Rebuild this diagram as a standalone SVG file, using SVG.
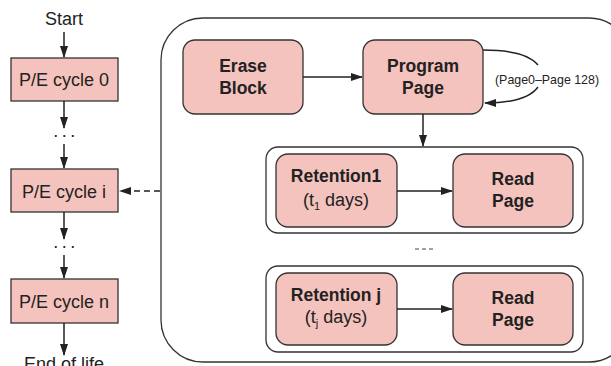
<svg xmlns="http://www.w3.org/2000/svg" width="611" height="366" viewBox="0 0 611 366">
<defs>
<marker id="ah" markerWidth="12" markerHeight="8" refX="11" refY="4" orient="auto" markerUnits="userSpaceOnUse"><path d="M0,0 L12,4 L0,8 Z" fill="#222"/></marker>
<style>
.box{fill:#f5c3bd;stroke:#333;stroke-width:1.3}
.grp{fill:#fff;stroke:#333;stroke-width:1.3}
.t{font-family:"Liberation Sans",Arial,sans-serif;fill:#222;text-anchor:middle}
.b{font-weight:bold;font-size:17.5px}
.r{font-size:18px}
.c{stroke:#222;stroke-width:1.5;fill:none}
</style>
</defs>
<rect width="611" height="366" fill="#fff"/>
<g id="outer"><rect x="161" y="18" width="470" height="344" rx="42" class="grp"/></g>
<g id="start"><text x="64" y="25" class="t r">Start</text></g>
<g id="pe0"><rect x="11" y="58" width="107" height="43" class="box"/><text x="64" y="86" class="t r">P/E cycle 0</text></g>
<g id="dots1"><text x="66" y="137" class="t r" style="letter-spacing:3.5px">...</text></g>
<g id="pei"><rect x="11" y="169" width="107" height="43" class="box"/><text x="64" y="198" class="t r">P/E cycle i</text></g>
<g id="dots2"><text x="66" y="248" class="t r" style="letter-spacing:3.5px">...</text></g>
<g id="pen"><rect x="11" y="279" width="107" height="44" class="box"/><text x="64" y="308" class="t r">P/E cycle n</text></g>
<g id="end"><text x="64" y="370" class="t r">End of life</text></g>
<g id="erase"><rect x="183" y="40" width="120" height="74" rx="12" class="box"/><text x="243" y="72" class="t b">Erase</text><text x="243" y="94" class="t b">Block</text></g>
<g id="program"><rect x="363" y="40" width="120" height="74" rx="12" class="box"/><text x="423" y="72" class="t b">Program</text><text x="423" y="94" class="t b">Page</text></g>
<g id="loopLabel"><text x="547" y="84" class="t" style="font-size:12.4px">(Page0–Page 128)</text></g>
<g id="group1"><rect x="266" y="147" width="317" height="86" rx="12" class="grp"/></g>
<g id="ret1"><rect x="276" y="154" width="121" height="73" rx="12" class="box"/><text x="336" y="182" class="t b">Retention1</text><text x="336" y="206" class="t r">(t<tspan font-size="11" dy="4">1</tspan><tspan dy="-4"> days)</tspan></text></g>
<g id="read1"><rect x="453" y="154" width="120" height="73" rx="12" class="box"/><text x="513" y="185" class="t b">Read</text><text x="513" y="207" class="t b">Page</text></g>
<g id="dashes"><line x1="415" y1="249" x2="435" y2="249" stroke="#444" stroke-width="1" stroke-dasharray="4,3"/></g>
<g id="group2"><rect x="266" y="266" width="317" height="86" rx="12" class="grp"/></g>
<g id="retj"><rect x="276" y="273" width="121" height="72" rx="12" class="box"/><text x="336" y="301" class="t b">Retention j</text><text x="336" y="323" class="t r">(t<tspan font-size="11" dy="4">j</tspan><tspan dy="-4"> days)</tspan></text></g>
<g id="readj"><rect x="453" y="273" width="120" height="72" rx="12" class="box"/><text x="513" y="304" class="t b">Read</text><text x="513" y="326" class="t b">Page</text></g>
<g id="connectors">
<line x1="64" y1="32" x2="64" y2="57" class="c" marker-end="url(#ah)"/>
<line x1="64" y1="101" x2="64" y2="128" class="c" marker-end="url(#ah)"/>
<line x1="64" y1="144" x2="64" y2="168" class="c" marker-end="url(#ah)"/>
<line x1="64" y1="212" x2="64" y2="239" class="c" marker-end="url(#ah)"/>
<line x1="64" y1="255" x2="64" y2="278" class="c" marker-end="url(#ah)"/>
<line x1="64" y1="323" x2="64" y2="355" class="c" marker-end="url(#ah)"/>
<line x1="160" y1="191" x2="120" y2="191" class="c" stroke-dasharray="6,4" marker-end="url(#ah)"/>
<line x1="303" y1="77" x2="362" y2="77" class="c" marker-end="url(#ah)"/>
<path d="M483,50 C510,50 530,55 538,65" class="c"/>
<path d="M538,87 C530,98 510,103 485,103" class="c" marker-end="url(#ah)"/>
<line x1="423" y1="114" x2="423" y2="146" class="c" marker-end="url(#ah)"/>
<line x1="397" y1="191" x2="452" y2="191" class="c" marker-end="url(#ah)"/>
<line x1="397" y1="309" x2="452" y2="309" class="c" marker-end="url(#ah)"/>
</g>
</svg>
